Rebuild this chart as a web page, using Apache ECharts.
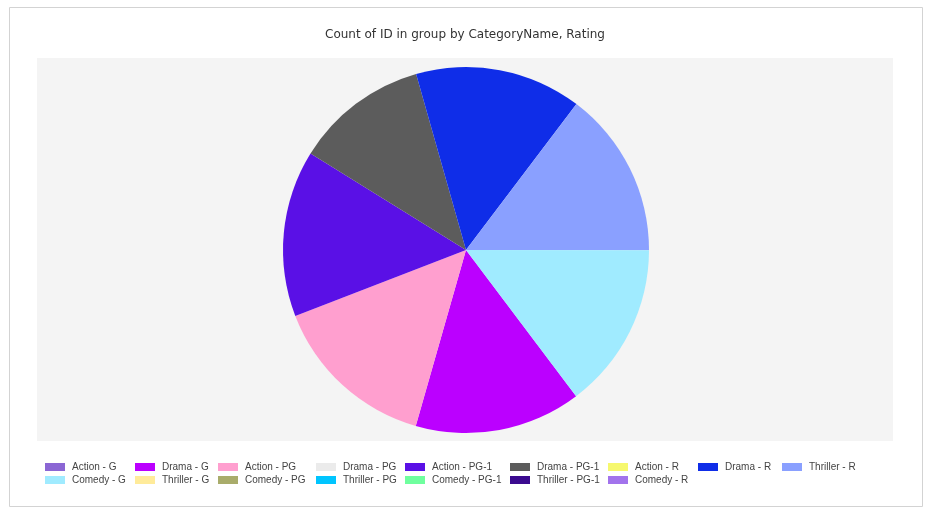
<!DOCTYPE html>
<html lang="en">
<head>
    <meta charset="utf-8" />
    <title>Count of ID in group by CategoryName, Rating</title>
    <script src="https://cdn.jsdelivr.net/npm/echarts@6/dist/echarts.min.js"></script>
    <style>
        html, body { margin: 0; padding: 0; background: #fff; }
        #main { width: 930px; height: 514px; }
    </style>
</head>
<body>
    <div id="main"></div>
    <script>
        // legend / data order
        var categories = ['Action - G', 'Drama - G', 'Action - PG', 'Drama - PG', 'Action - PG-1', 'Drama - PG-1',
            'Action - R', 'Drama - R', 'Thriller - R', 'Comedy - G', 'Thriller - G', 'Comedy - PG',
            'Thriller - PG', 'Comedy - PG-1', 'Thriller - PG-1', 'Comedy - R'];
        var counts = [0, 5, 5, 0, 5, 4, 0, 5, 5, 5, 0, 0, 0, 0, 0, 0];
        var colors = ['#8b66d4', '#bb00ff', '#ff9fcf', '#ebebeb', '#5a10e6', '#5c5c5c',
            '#f6f86e', '#0f2de8', '#8aa0ff', '#a0ebff', '#ffeb9a', '#a9ac6b',
            '#00c5ff', '#6fff9e', '#3b0a8f', '#a273ec'];

        var chart = echarts.init(document.getElementById('main'));

        // legend is laid out as a table: 9 columns, 2 rows
        var colLeft = [45, 135, 218, 316, 405, 510, 608, 698, 782];
        var legends = colLeft.map(function (x, i) {
            var items = [categories[i]];
            if (categories[i + 9]) items.push(categories[i + 9]);
            return {
                data: items,
                orient: 'vertical',
                left: x,
                top: 461,
                itemWidth: 20,
                itemHeight: 8,
                itemGap: 1,
                padding: 0,
                icon: 'rect',
                selectedMode: false,
                textStyle: { fontFamily: 'Liberation Sans', fontSize: 10, color: '#444', lineHeight: 12,
                    padding: [0, 0, 0, 2] }
            };
        });

        var option = {
            animation: false,
            color: colors,
            title: {
                text: 'Count of ID in group by CategoryName, Rating',
                left: 'center',
                top: 29,
                padding: 0,
                textStyle: { fontFamily: 'DejaVu Sans', fontSize: 12, fontWeight: 'normal', color: '#333' }
            },
            graphic: [
                { type: 'rect', z: -10, shape: { x: 9.5, y: 7.5, width: 913, height: 499 },
                  style: { fill: '#fff', stroke: '#d3d3d3', lineWidth: 1 } },
                { type: 'rect', z: -9, shape: { x: 37, y: 58, width: 856, height: 383 },
                  style: { fill: '#f4f4f4' } }
            ],
            legend: legends,
            series: [{
                type: 'pie',
                center: [466, 250],
                radius: 183,
                startAngle: -53,
                clockwise: true,
                label: { show: false },
                labelLine: { show: false },
                emphasis: { disabled: true },
                itemStyle: { borderWidth: 0 },
                data: categories.map(function (c, i) { return { name: c, value: counts[i] }; })
            }]
        };
        chart.setOption(option);
    </script>
</body>
</html>
